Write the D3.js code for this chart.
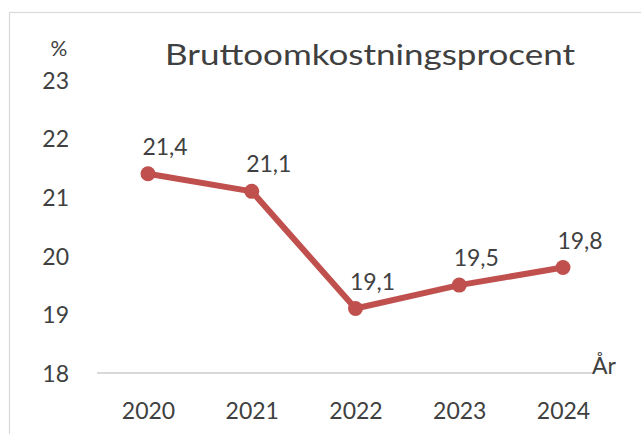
<!DOCTYPE html>
<html>
<head>
<meta charset="utf-8">
<script src="https://cdn.jsdelivr.net/npm/d3@7"></script>
<style>
  html, body { margin: 0; padding: 0; background: #fff; }
  svg { display: block; }
  text { font-family: Lato, "Open Sans", sans-serif; fill: #404040; }
</style>
</head>
<body>
<svg id="chart" width="641" height="434"></svg>
<script>
const years = ["2020", "2021", "2022", "2023", "2024"];
const values = [21.4, 21.1, 19.1, 19.5, 19.8];
const valueLabels = ["21,4", "21,1", "19,1", "19,5", "19,8"];
const yTicks = [18, 19, 20, 21, 22, 23];
const title = "Bruttoomkostningsprocent";
const yUnit = "%";
const xUnit = "År";

const svg = d3.select("#chart");
const W = 641, H = 434;

svg.append("rect").attr("width", W).attr("height", H).attr("fill", "#fff");
// chart border (only top/left visible)
svg.append("rect")
  .attr("x", 9.5).attr("y", 12.5).attr("width", 800).attr("height", 600)
  .attr("fill", "none").attr("stroke", "#d9d9d9").attr("stroke-width", 1.2);

const x = d3.scalePoint().domain(years).range([148, 563]);
const y = d3.scaleLinear().domain([18, 23]).range([373, 80]);

// title
svg.append("text")
  .attr("x", 165).attr("y", 65)
  .attr("font-size", 28)
  .attr("textLength", 410).attr("lengthAdjust", "spacingAndGlyphs")
  .text(title);

// y axis
const yAxis = svg.append("g")
  .attr("transform", "translate(69,0)")
  .call(d3.axisLeft(y).tickValues(yTicks).tickSize(0).tickPadding(0).tickFormat(d3.format("d")));
yAxis.select(".domain").remove();
yAxis.selectAll("text")
  .attr("font-size", 23)
  .attr("font-family", "Lato, sans-serif")
  .attr("fill", "#404040")
  .attr("dy", "0.36em");

svg.append("text")
  .attr("x", 59).attr("y", 56)
  .attr("text-anchor", "middle")
  .attr("font-size", 21)
  .text(yUnit);

// x axis baseline
svg.append("line")
  .attr("x1", 97).attr("x2", 594)
  .attr("y1", y(18)).attr("y2", y(18))
  .attr("stroke", "#d9d9d9").attr("stroke-width", 2);

const xAxis = svg.append("g")
  .attr("transform", `translate(0,${y(18)})`)
  .call(d3.axisBottom(x).tickSize(0).tickPadding(0));
xAxis.select(".domain").remove();
xAxis.selectAll("text")
  .attr("font-size", 23)
  .attr("font-family", "Lato, sans-serif")
  .attr("fill", "#404040")
  .attr("y", 46)
  .attr("dy", 0);

svg.append("text")
  .attr("x", 592).attr("y", y(18) + 1)
  .attr("font-size", 23)
  .text(xUnit);

// line
const line = d3.line()
  .x((d, i) => x(years[i]))
  .y(d => y(d));

svg.append("path")
  .datum(values)
  .attr("d", line)
  .attr("fill", "none")
  .attr("stroke", "#C0504D")
  .attr("stroke-width", 6)
  .attr("stroke-linejoin", "round");

svg.selectAll("circle.pt")
  .data(values)
  .join("circle")
  .attr("class", "pt")
  .attr("cx", (d, i) => x(years[i]))
  .attr("cy", d => y(d))
  .attr("r", 7.5)
  .attr("fill", "#C0504D");

svg.selectAll("text.lbl")
  .data(values)
  .join("text")
  .attr("class", "lbl")
  .attr("x", (d, i) => x(years[i]) + 17)
  .attr("y", d => y(d) - 19)
  .attr("text-anchor", "middle")
  .attr("font-size", 23)
  .text((d, i) => valueLabels[i]);
</script>
</body>
</html>
